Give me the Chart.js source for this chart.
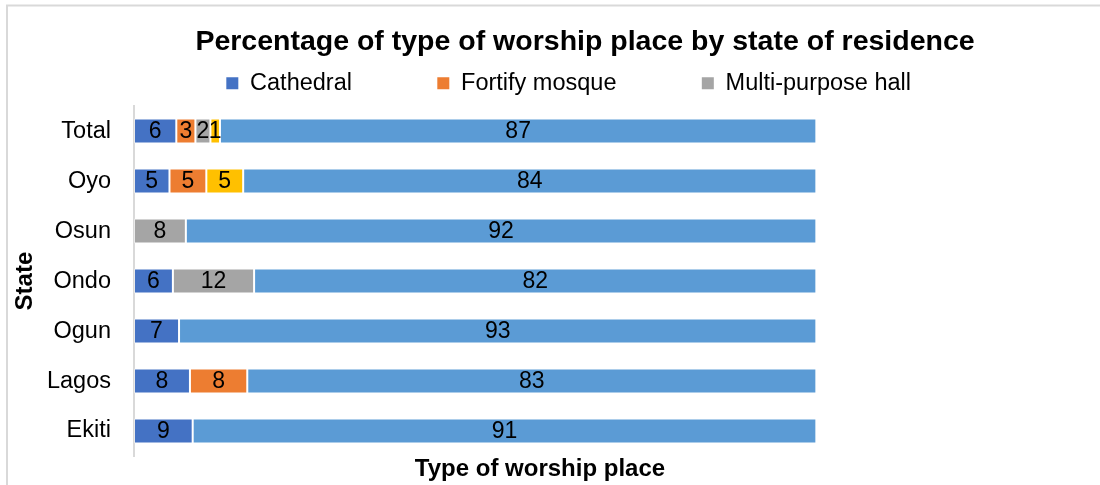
<!DOCTYPE html>
<html>
<head>
<meta charset="utf-8">
<title>Percentage of type of worship place by state of residence</title>
<script src="https://cdn.jsdelivr.net/npm/chart.js@4"></script>
<style>
  html, body { margin: 0; padding: 0; background: #fff; overflow: hidden; }
  #wrap { width: 1170px; height: 485px; }
</style>
</head>
<body>
<div id="wrap"><canvas id="worshipChart" width="1170" height="485"></canvas></div>
<script>
const states = ['Total', 'Oyo', 'Osun', 'Ondo', 'Ogun', 'Lagos', 'Ekiti'];

// share of respondents (%) per state, same order as states
const cathedral        = [6.2, 5.2, 0, 5.7, 6.6, 8.2, 8.6];
const fortifyMosque    = [2.8, 5.4, 0, 0, 0, 8.4, 0];
const multiPurposeHall = [2.2, 0, 7.6, 11.9, 0, 0, 0];
const townHall         = [1.4, 5.4, 0, 0, 0, 0, 0];
const otherPlace       = [87.4, 84.0, 92.4, 82.4, 93.4, 83.4, 91.4];

const seriesNames  = ['Cathedral', 'Fortify mosque', 'Multi-purpose hall', 'Town hall', 'Other'];
const seriesData   = [cathedral, fortifyMosque, multiPurposeHall, townHall, otherPlace];
const seriesColors = ['#4472C4', '#ED7D31', '#A5A5A5', '#FFC000', '#5B9BD5'];
const legendCount  = 3; // only the first three series go in the legend

const FONT = "'Liberation Sans', Arial, sans-serif";

// white background + light frame of the chart box
const frame = {
    id: 'frame',
    beforeDraw(chart) {
        const ctx = chart.ctx;
        ctx.save();
        ctx.fillStyle = '#fff';
        ctx.fillRect(0, 0, chart.width, chart.height);
        ctx.strokeStyle = '#D9D9D9';
        ctx.lineWidth = 2;
        ctx.strokeRect(7, 5.5, chart.width + 20, chart.height + 20);
        ctx.restore();
    }
};

// rounded value in the middle of each segment
const barLabels = {
    id: 'barLabels',
    afterDatasetsDraw(chart) {
        const ctx = chart.ctx;
        ctx.save();
        ctx.font = '23px ' + FONT;
        ctx.fillStyle = '#000';
        ctx.textAlign = 'center';
        ctx.textBaseline = 'middle';
        chart.data.datasets.forEach((ds, i) => {
            chart.getDatasetMeta(i).data.forEach((bar, j) => {
                const v = ds.data[j];
                if (!v) return;
                const c = bar.getCenterPoint();
                ctx.fillText(String(Math.round(v)), c.x, c.y + 1);
            });
        });
        ctx.restore();
    }
};

const gap = ' '.repeat(12);
const tail = ' '.repeat(5);

new Chart(document.getElementById('worshipChart'), {
    type: 'bar',
    data: {
        labels: states,
        datasets: seriesNames.map((name, i) => ({
            label: name,
            data: seriesData[i],
            backgroundColor: seriesColors[i],
            borderColor: 'rgba(255,255,255,0.45)',
            borderWidth: 1,
            borderSkipped: false,
            barPercentage: 0.5,
            categoryPercentage: 1.0,
            xAxisID: 'x',
            yAxisID: 'y'
        }))
    },
    options: {
        indexAxis: 'y',
        responsive: false,
        animation: false,
        plugins: {
            title: {
                display: true,
                text: 'Percentage of type of worship place by state of residence',
                color: '#000',
                font: { family: FONT, size: 28.5, weight: 'bold' },
                padding: { top: 24.7, bottom: 5.7 }
            },
            legend: {
                display: true,
                position: 'top',
                labels: {
                    color: '#000',
                    font: { family: FONT, size: 23.5 },
                    boxWidth: 12,
                    boxHeight: 12,
                    padding: 7,
                    generateLabels(chart) {
                        const items = Chart.defaults.plugins.legend.labels.generateLabels(chart)
                            .filter(it => it.datasetIndex < legendCount);
                        items.forEach((it, k) => {
                            it.text += (k < items.length - 1) ? gap : tail;
                            it.lineWidth = 0;
                        });
                        return items;
                    }
                }
            },
            tooltip: { enabled: false }
        },
        scales: {
            x: {
                stacked: true,
                min: 0,
                max: 119,
                grid: { display: false, drawTicks: false },
                border: { display: false },
                ticks: { display: false },
                title: {
                    display: true,
                    text: 'Type of worship place',
                    color: '#000',
                    font: { family: FONT, size: 24, weight: 'bold' },
                    padding: { top: 0, bottom: 1.6 }
                },
                afterFit(s) { s.height = 29; }
            },
            xTop: {
                type: 'linear',
                axis: 'x',
                position: 'top',
                grid: { display: false, drawTicks: false },
                border: { display: false },
                ticks: { display: false },
                afterFit(s) { s.height = 1; }
            },
            y: {
                stacked: true,
                grid: { display: false, drawTicks: false },
                border: { display: true, color: '#D9D9D9', width: 2 },
                ticks: {
                    color: '#000',
                    font: { family: FONT, size: 23.5 },
                    padding: 23
                },
                title: {
                    display: true,
                    text: 'State',
                    color: '#000',
                    font: { family: FONT, size: 24, weight: 'bold' },
                    padding: { top: 11, bottom: 0 }
                },
                afterFit(s) {
                    s.width = 134;
                    // labels sit inside the category bands, no extra room needed
                    s.paddingTop = 0;
                    s.paddingBottom = 0;
                }
            },
            yRight: {
                type: 'category',
                axis: 'y',
                position: 'right',
                grid: { display: false, drawTicks: false },
                border: { display: false },
                ticks: { display: false },
                afterFit(s) { s.width = 224; }
            }
        }
    },
    plugins: [frame, barLabels]
});
</script>
</body>
</html>
